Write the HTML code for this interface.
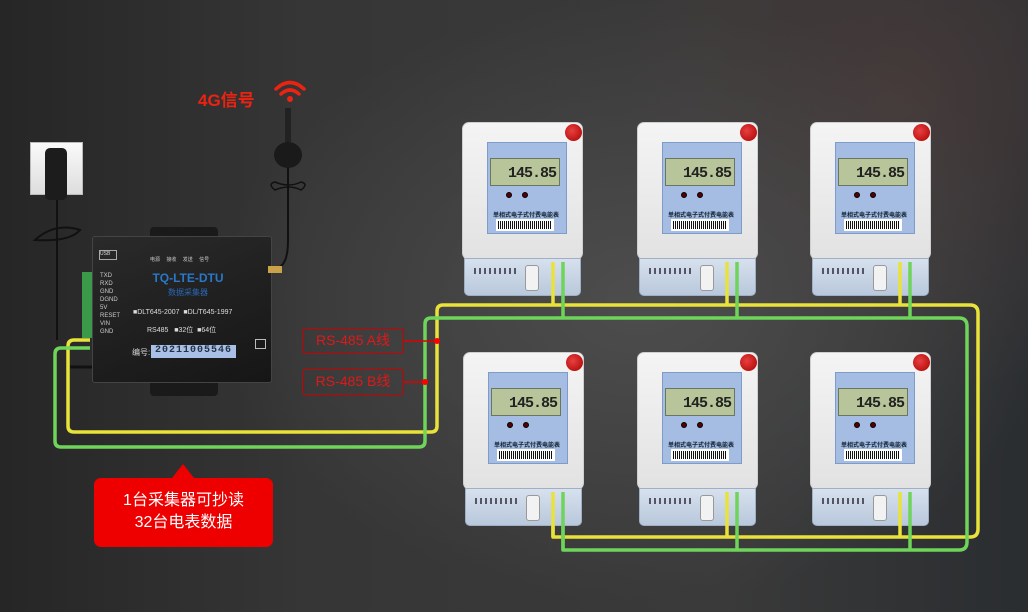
<!DOCTYPE html>
<html><head><meta charset="utf-8"><style>
*{margin:0;padding:0;box-sizing:border-box}
body{width:1028px;height:612px;overflow:hidden;position:relative;font-family:"Liberation Sans","Noto Sans CJK SC",sans-serif;
background:radial-gradient(ellipse 420px 300px at 640px 300px,#4d4d4d,rgba(60,60,60,0) 100%),radial-gradient(ellipse 300px 300px at 900px 100px,#453a3a,rgba(60,60,60,0)),linear-gradient(90deg,#262626 0%,#363636 30%,#3a3a3a 70%,#2a2d30 100%);}
.a{position:absolute}
.m{position:absolute;width:121px;height:174px}
.m .b{position:absolute;left:0;top:0;width:121px;height:138px;border-radius:7px;background:linear-gradient(180deg,#f4f4f4,#e2e2e2);border:1px solid #cfcfcf}
.m .t{position:absolute;left:2px;top:136px;width:117px;height:38px;border-radius:0 0 5px 5px;background:linear-gradient(180deg,#d7e1ee,#b9c8dc);border:1px solid #9fb0c4}
.m .p{position:absolute;left:25px;top:20px;width:80px;height:92px;background:#a5bde2;border:1px solid #7f9cc8}
.m .l{position:absolute;left:28px;top:36px;width:70px;height:28px;background:#b8c59a;border:1px solid #6b7660;font:bold 15px "Liberation Mono",monospace;color:#222;text-align:right;padding:6px 3px 0 0;letter-spacing:-1px}
.m .r{position:absolute;left:103px;top:2px;width:17px;height:17px;border-radius:50%;background:radial-gradient(circle at 40% 40%,#e84040,#a00);}
.m .c{position:absolute;left:28px;top:88px;width:72px;font-size:6px;font-weight:bold;color:#123;text-align:center}
.m .bc{position:absolute;left:34px;top:97px;width:58px;height:12px;background:repeating-linear-gradient(90deg,#111 0 1px,#fff 1px 2px);border:2px solid #fff}
.m .w{position:absolute;left:63px;top:143px;width:14px;height:26px;border-radius:3px;background:#f2f2f2;border:1px solid #999}
.m .d{position:absolute;top:70px;width:6px;height:6px;border-radius:50%;background:#500;border:1px solid #000}
.m .s{position:absolute;left:12px;top:146px;width:42px;height:6px;background:repeating-linear-gradient(90deg,#556 0 2px,transparent 2px 5px)}
</style></head><body>

<svg class="a" style="left:0;top:0" width="1028" height="612">
<g fill="none" stroke-width="3.5" stroke-linejoin="round">
<path d="M90 340 H74 Q68 340 68 346 V426 Q68 432 74 432 H431 Q437 432 437 426 V311 Q437 305 443 305 H970 Q978 305 978 313 V529 Q978 537 970 537 H553 V490" stroke="#e8e23a"/>
<path d="M90 348 H61 Q55 348 55 354 V441 Q55 447 61 447 H419 Q425 447 425 441 V324 Q425 318 431 318 H959 Q967 318 967 326 V542 Q967 550 959 550 H563 V490" stroke="#6fd45a"/>
</g>
<path d="M404 341 H437 M404 382 H425" stroke="#d00" stroke-width="1.5"/>
<circle cx="437" cy="341" r="3" fill="#f00"/><circle cx="425" cy="382" r="3" fill="#f00"/>
<path d="M183 464 L172 478 L194 478 Z" fill="#e00"/>
<path d="M288 108 V240 Q288 268 275 268" stroke="#111" stroke-width="2" fill="none"/>
<ellipse cx="288" cy="155" rx="14" ry="13" fill="#1a1a1a"/>
<rect x="285" y="108" width="6" height="34" fill="#222"/>
<path d="M275 190 q-8 -6 0 -8 q14 6 26 0 q8 2 0 8 q-12 -6 -26 0Z" stroke="#111" stroke-width="1.5" fill="none"/>
<g fill="none" stroke="#e21" stroke-width="3.5" stroke-linecap="round">
<path d="M276 89 Q290 76 304 89"/><path d="M281 94 Q290 86 299 94"/></g>
<circle cx="290" cy="99" r="3" fill="#e21"/>
<path d="M57 200 V340" stroke="#111" stroke-width="2" fill="none"/>
<path d="M35 240 q20 -18 45 -10 q-10 12 -45 10Z" stroke="#111" stroke-width="2" fill="none"/>
<path d="M70 367 H92" stroke="#111" stroke-width="3"/>
</svg>

<div class="a" style="left:198px;top:86px;color:#e21;font-weight:bold;font-size:17px">4G信号</div>

<div class="a" style="left:30px;top:142px;width:53px;height:53px;background:linear-gradient(#fafafa,#ddd);border:1px solid #bbb"></div>
<div class="a" style="left:45px;top:148px;width:22px;height:52px;border-radius:5px;background:#1c1c1c"></div>

<div class="a" style="left:150px;top:227px;width:68px;height:14px;border-radius:4px;background:#1a1a1a"></div>
<div class="a" style="left:150px;top:378px;width:68px;height:18px;border-radius:4px;background:#1a1a1a"></div>
<div class="a" style="left:82px;top:272px;width:12px;height:66px;background:#3a9a4a"></div>
<div class="a" style="left:92px;top:236px;width:180px;height:147px;background:linear-gradient(160deg,#2a2a2a,#161616);border:1px solid #444;border-radius:3px"></div>
<div class="a" style="left:99px;top:250px;width:18px;height:10px;border:1px solid #aaa;font-size:5px;color:#ddd">USB</div>
<div class="a" style="left:100px;top:272px;width:18px;height:70px;font-size:6px;line-height:8px;color:#ccc">TXD<br>RXD<br>GND<br>DGND<br>5V<br>RESET<br>VIN<br>GND</div>
<div class="a" style="left:150px;top:256px;width:60px;font-size:5px;color:#ccc;word-spacing:5px">电源 接收 发送 信号</div>
<div class="a" style="left:143px;top:271px;width:90px;text-align:center;color:#2a78c8;font-weight:bold;font-size:12px">TQ-LTE-DTU</div>
<div class="a" style="left:143px;top:287px;width:90px;text-align:center;color:#2a68b8;font-size:8px">数据采集器</div>
<div class="a" style="left:133px;top:309px;font-size:7px;color:#ddd">■DLT645-2007 &nbsp;■DL/T645-1997</div>
<div class="a" style="left:147px;top:325px;font-size:7px;color:#ddd">RS485 &nbsp; ■32位 &nbsp;■64位</div>
<div class="a" style="left:132px;top:347px;font-size:8px;color:#ddd">编号:</div>
<div class="a" style="left:151px;top:345px;width:85px;height:13px;background:#a9bfe6;font:bold 10px 'Liberation Mono',monospace;color:#234;text-align:center;letter-spacing:1px">20211005546</div>
<div class="a" style="left:255px;top:339px;width:11px;height:10px;border:1px solid #bbb"></div>
<div class="a" style="left:268px;top:266px;width:14px;height:7px;background:#c9a24a"></div>

<div class="a" style="left:302px;top:328px;width:102px;height:26px;border:1.5px solid #c00;border-radius:3px;color:#e01818;font-size:14px;text-align:center;line-height:23px">RS-485 A线</div>
<div class="a" style="left:302px;top:369px;width:102px;height:26px;border:1.5px solid #c00;border-radius:3px;color:#e01818;font-size:14px;text-align:center;line-height:23px">RS-485 B线</div>

<div class="a" style="left:94px;top:478px;width:179px;height:69px;background:#e00;border-radius:7px;color:#fff;font-size:16px;text-align:center;line-height:22px;padding-top:12px">1台采集器可抄读<br>32台电表数据</div>

<div class="m" style="left:462px;top:122px"><div class="b"></div><div class="t"></div><div class="s"></div><div class="w"></div><div class="p"></div><div class="l">145.85</div><div class="d" style="left:44px"></div><div class="d" style="left:60px"></div><div class="c">单相式电子式付费电能表</div><div class="bc"></div><div class="r"></div></div>
<div class="m" style="left:637px;top:122px"><div class="b"></div><div class="t"></div><div class="s"></div><div class="w"></div><div class="p"></div><div class="l">145.85</div><div class="d" style="left:44px"></div><div class="d" style="left:60px"></div><div class="c">单相式电子式付费电能表</div><div class="bc"></div><div class="r"></div></div>
<div class="m" style="left:810px;top:122px"><div class="b"></div><div class="t"></div><div class="s"></div><div class="w"></div><div class="p"></div><div class="l">145.85</div><div class="d" style="left:44px"></div><div class="d" style="left:60px"></div><div class="c">单相式电子式付费电能表</div><div class="bc"></div><div class="r"></div></div>
<div class="m" style="left:463px;top:352px"><div class="b"></div><div class="t"></div><div class="s"></div><div class="w"></div><div class="p"></div><div class="l">145.85</div><div class="d" style="left:44px"></div><div class="d" style="left:60px"></div><div class="c">单相式电子式付费电能表</div><div class="bc"></div><div class="r"></div></div>
<div class="m" style="left:637px;top:352px"><div class="b"></div><div class="t"></div><div class="s"></div><div class="w"></div><div class="p"></div><div class="l">145.85</div><div class="d" style="left:44px"></div><div class="d" style="left:60px"></div><div class="c">单相式电子式付费电能表</div><div class="bc"></div><div class="r"></div></div>
<div class="m" style="left:810px;top:352px"><div class="b"></div><div class="t"></div><div class="s"></div><div class="w"></div><div class="p"></div><div class="l">145.85</div><div class="d" style="left:44px"></div><div class="d" style="left:60px"></div><div class="c">单相式电子式付费电能表</div><div class="bc"></div><div class="r"></div></div>

<svg class="a" style="left:0;top:0" width="1028" height="612">
<g stroke-width="3.5"><path d="M553 262 V305 M727 262 V305 M900 262 V305 M553 492 V537 M727 492 V537 M900 492 V537" stroke="#e8e23a"/>
<path d="M563 262 V318 M737 262 V318 M910 262 V318 M563 492 V550 M737 492 V550 M910 492 V550" stroke="#6fd45a"/></g>
</svg>
</body></html>
